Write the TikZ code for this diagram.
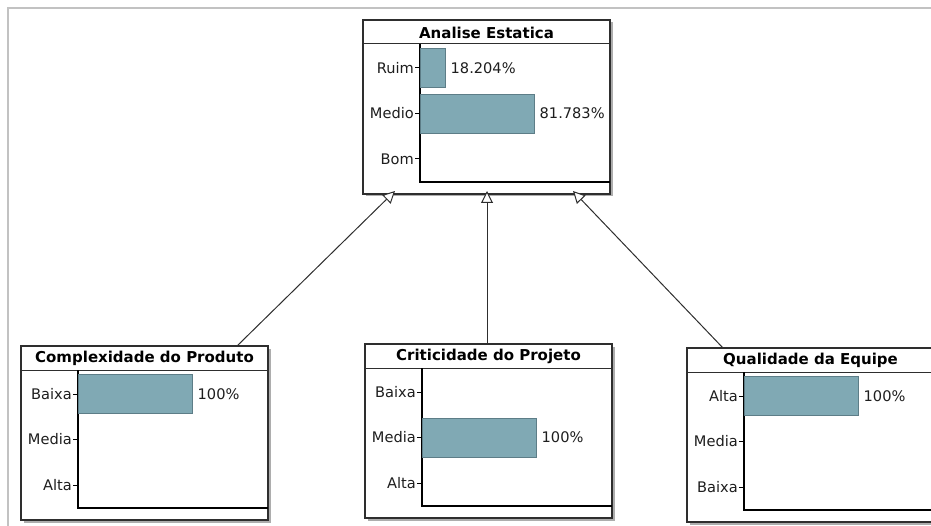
\documentclass[tikz,border=0pt]{standalone}
\usepackage{fontspec}
\setmainfont{DejaVu Sans}
\usetikzlibrary{arrows.meta,calc,shadows}

\definecolor{barfill}{HTML}{80A9B4}
\definecolor{barline}{HTML}{5D7D87}
\definecolor{boxline}{HTML}{2E2E2E}
\definecolor{framegray}{HTML}{C2C2C2}
\definecolor{inktext}{HTML}{1E1E1E}

\tikzset{
  netbox/.style={draw=boxline, line width=1.1pt, fill=white, inner sep=0pt, outer sep=0pt,
    minimum width=247pt, minimum height=174pt, anchor=north west,
    drop shadow={shadow xshift=2.5pt, shadow yshift=-2.5pt, opacity=1, fill=black!32}},
  boxtitle/.style={font=\bfseries\fontsize{15}{17}\selectfont, text=black, inner sep=0pt, anchor=center},
  catlabel/.style={font=\fontsize{14.6}{16}\selectfont, text=inktext, inner sep=0pt, anchor=east},
  vallabel/.style={font=\fontsize{14.6}{16}\selectfont, text=inktext, inner sep=0pt, anchor=west},
  bar/.style={fill=barfill, draw=barline, line width=0.9pt},
  axisline/.style={draw=black, line width=1.1pt},
  link/.style={draw=boxline, line width=1pt, -{Triangle[length=12pt, width=12pt, fill=white, line width=1pt]}},
}

% a variable box: name, left, top, title
\newcommand\probbox[4]{%
  \node[netbox] (#1) at (#2,#3) {};
  \node[boxtitle] (#1-t) at ($(#1.north)+(0,12.5)$) {#4};
  \draw[boxline, line width=1pt] ($(#1.north west)+(0,24)$) -- ($(#1.north east)+(0,24)$);
  \draw[axisline] ($(#1.north west)+(57,24)$) |- ($(#1.south east)+(0,-12)$);
}
% one state row: box, index, state name
\newcommand\probrow[3]{%
  \coordinate (#1-r#2) at ($(#1.north west)+(57,48+45.5*#2)$);
  \draw[black, line width=1pt] ($(#1-r#2)+(-5,0)$) -- (#1-r#2);
  \node[catlabel] (#1-c#2) at ($(#1-r#2)+(-6,0)$) {#3};
}
% a probability bar: box, row index, bar length, value text
\newcommand\probbar[4]{%
  \draw[bar] ($(#1-r#2)+(0,-19.5)$) rectangle ($(#1-r#2)+(#3,19.5)$);
  \node[vallabel] (#1-v#2) at ($(#1-r#2)+(#3+5,0)$) {#4};
}

\begin{document}
\begin{tikzpicture}[x=1pt,y=-1pt]
\useasboundingbox (0,0) rectangle (931,526);
\clip (0,0) rectangle (931,526);

% outer panel edge
\draw[framegray, line width=2pt] (931,8) -- (8,8) -- (8,526);

% Analise Estatica
\probbox{ae}{363}{20}{Analise Estatica}
\probrow{ae}{0}{Ruim}
\probrow{ae}{1}{Medio}
\probrow{ae}{2}{Bom}
\probbar{ae}{0}{25.5}{18.204\%}
\probbar{ae}{1}{114.5}{81.783\%}

% Complexidade do Produto
\probbox{cp}{21}{346}{Complexidade do Produto}
\probrow{cp}{0}{Baixa}
\probrow{cp}{1}{Media}
\probrow{cp}{2}{Alta}
\probbar{cp}{0}{114.5}{100\%}

% Criticidade do Projeto
\probbox{cr}{365}{344}{Criticidade do Projeto}
\probrow{cr}{0}{Baixa}
\probrow{cr}{1}{Media}
\probrow{cr}{2}{Alta}
\probbar{cr}{1}{114.5}{100\%}

% Qualidade da Equipe
\probbox{qe}{687}{348}{Qualidade da Equipe}
\probrow{qe}{0}{Alta}
\probrow{qe}{1}{Media}
\probrow{qe}{2}{Baixa}
\probbar{qe}{0}{114.5}{100\%}

% influence links
\draw[link] ($(cp.north east)+(-31,0)$) -- ($(ae.south west)+(32,-3)$);
\draw[link] ($(cr.north west)+(122,0)$) -- ($(ae.south west)+(124,-3)$);
\draw[link] ($(qe.north west)+(36,0)$) -- ($(ae.south west)+(210,-3)$);
\end{tikzpicture}
\end{document}
